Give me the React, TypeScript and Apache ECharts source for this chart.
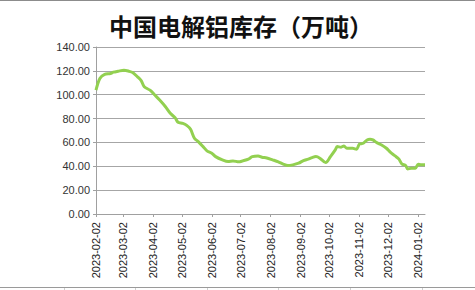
import React, { useEffect, useRef } from "react";
import * as echarts from "echarts";

const titleText = "中国电解铝库存（万吨）";
const startDate = "2023-02-02";
const endDate = "2024-01-09";

const obsDates = [
  "2023-02-02", "2023-02-06", "2023-02-11", "2023-02-17", "2023-02-20", "2023-02-25",
  "2023-03-03", "2023-03-08", "2023-03-12", "2023-03-17", "2023-03-21", "2023-03-24", "2023-03-30",
  "2023-04-04", "2023-04-09", "2023-04-15", "2023-04-20", "2023-04-25", "2023-04-28",
  "2023-05-03", "2023-05-07", "2023-05-11", "2023-05-15", "2023-05-19", "2023-05-24", "2023-05-28",
  "2023-06-02", "2023-06-06", "2023-06-13", "2023-06-19", "2023-06-24", "2023-06-30",
  "2023-07-04", "2023-07-10", "2023-07-14", "2023-07-20", "2023-07-24", "2023-07-29",
  "2023-08-04", "2023-08-10", "2023-08-15", "2023-08-20", "2023-08-25", "2023-08-31",
  "2023-09-05", "2023-09-10", "2023-09-14", "2023-09-18", "2023-09-22", "2023-09-28",
  "2023-10-03", "2023-10-08", "2023-10-10", "2023-10-14", "2023-10-17", "2023-10-20", "2023-10-26", "2023-10-30",
  "2023-11-02", "2023-11-06", "2023-11-10", "2023-11-13", "2023-11-16", "2023-11-20", "2023-11-25", "2023-11-30",
  "2023-12-04", "2023-12-09", "2023-12-13", "2023-12-16", "2023-12-20", "2023-12-22", "2023-12-26", "2023-12-30",
  "2024-01-02", "2024-01-05", "2024-01-09",
];

const obsValues = [
  103.8, 113.6, 117.0, 117.8, 118.9, 119.7,
  120.5, 119.7, 118.6, 115.0, 111.6, 106.6, 103.8,
  99.7, 95.5, 89.9, 84.4, 80.7, 76.9,
  76.0, 74.3, 71.0, 63.5, 60.7, 56.5, 52.9,
  51.0, 48.1, 45.4, 44.0, 44.5, 43.7,
  44.5, 46.0, 48.1, 48.7, 47.6, 47.0,
  45.4, 43.7, 41.8, 40.6, 41.2, 42.6,
  44.8, 46.0, 47.3, 48.1, 46.8, 43.1,
  48.1, 53.7, 56.5, 56.0, 57.0, 55.1, 55.1, 54.3,
  58.5, 59.3, 62.1, 62.7, 62.1, 59.8, 57.9, 55.1,
  51.8, 48.7, 46.0, 42.0, 40.6, 37.8, 38.4, 38.4,
  41.8, 41.2, 41.2,
];

const yTicks = [0, 20, 40, 60, 80, 100, 120, 140];

function buildDays(a: string, b: string): string[] {
  const out: string[] = [];
  const d = new Date(a + "T00:00:00Z");
  const e = new Date(b + "T00:00:00Z");
  while (d.getTime() <= e.getTime()) {
    out.push(d.toISOString().slice(0, 10));
    d.setUTCDate(d.getUTCDate() + 1);
  }
  return out;
}

export default function App() {
  const ref = useRef<HTMLDivElement>(null);
  useEffect(() => {
    document.body.style.margin = "0";
    if (!ref.current) return;
    const chart = echarts.init(ref.current, null, { renderer: "svg" });
    const days = buildDays(startDate, endDate);
    const map: Record<string, number> = {};
    obsDates.forEach((d, i) => (map[d] = obsValues[i]));
    const seriesData = days.map((d) => (d in map ? map[d] : null));
    const isMonthTick = (_i: number, v: string) => v.slice(8, 10) === "02";
    const cellXs = [64, 135, 207, 278, 350, 422];
    chart.setOption({
      animation: false,
      backgroundColor: "#ffffff",
      title: {
        text: titleText,
        left: 104,
        top: 8,
        textStyle: {
          fontFamily: "Noto Sans CJK SC",
          fontSize: 24,
          fontWeight: "bold",
          color: "#111111",
        },
      },
      grid: { left: 96, right: 50, top: 47, bottom: 76, containLabel: false },
      xAxis: {
        type: "category",
        data: days,
        boundaryGap: false,
        axisLine: { show: true, lineStyle: { color: "#a0a0a0", width: 1 } },
        axisTick: { show: true, interval: isMonthTick, length: 3, lineStyle: { color: "#a0a0a0" } },
        axisLabel: {
          interval: isMonthTick,
          rotate: 90,
          margin: 8,
          fontFamily: "Liberation Sans",
          fontSize: 11,
          color: "#222222",
        },
        splitLine: { show: false },
      },
      yAxis: {
        type: "value",
        min: yTicks[0],
        max: yTicks[yTicks.length - 1],
        interval: 20,
        axisLine: { show: true, lineStyle: { color: "#a0a0a0", width: 1 } },
        axisTick: { show: true, length: 3, lineStyle: { color: "#a0a0a0" } },
        axisLabel: {
          margin: 6,
          fontFamily: "Liberation Sans",
          fontSize: 11,
          color: "#333333",
          formatter: (v: number) => v.toFixed(2),
        },
        splitLine: { show: true, lineStyle: { color: "#a6a6a6", width: 1.2 } },
      },
      series: [
        {
          type: "line",
          data: seriesData,
          connectNulls: true,
          smooth: 0.3,
          showSymbol: false,
          symbol: "none",
          lineStyle: { color: "#92d050", width: 3 },
        },
      ],
      graphic: [
        { type: "line", shape: { x1: 0, y1: 0.5, x2: 475, y2: 0.5 }, style: { stroke: "#8c8c8c", lineWidth: 1 } },
        { type: "line", shape: { x1: 0, y1: 287.5, x2: 475, y2: 287.5 }, style: { stroke: "#9a9a9a", lineWidth: 1 } },
        ...cellXs.map((x) => ({
          type: "line",
          shape: { x1: x + 0.5, y1: 288, x2: x + 0.5, y2: 290 },
          style: { stroke: "#d0d0d0", lineWidth: 1 },
        })),
      ],
    });
    return () => chart.dispose();
  }, []);
  return <div ref={ref} style={{ width: 475, height: 290 }} />;
}
